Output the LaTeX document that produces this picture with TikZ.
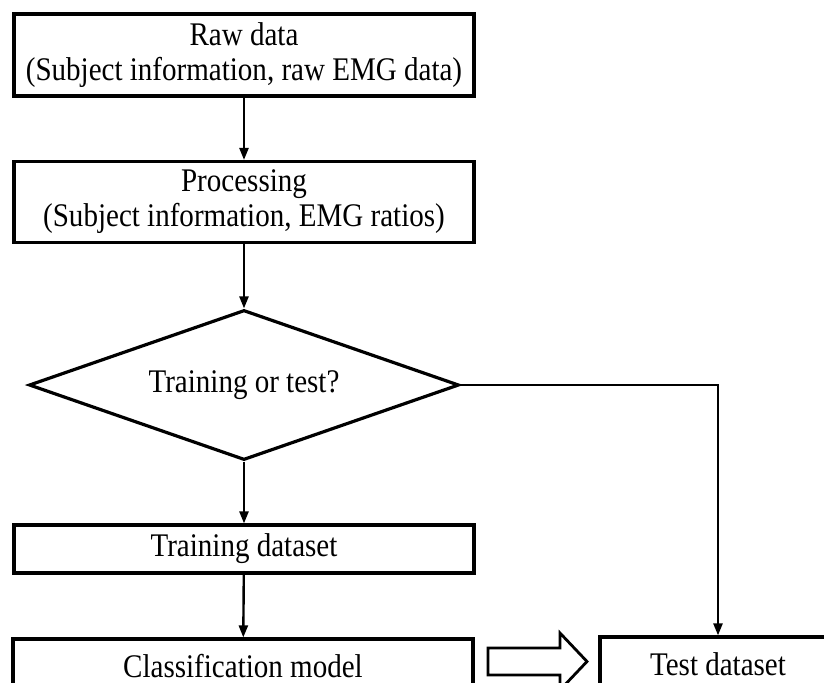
\documentclass[tikz,border=0pt]{standalone}
\usepackage{fontspec}
\setmainfont[FakeStretch=0.88]{Liberation Serif}
\usepackage{tikz}
\usetikzlibrary{arrows.meta, positioning, shapes.geometric}

\begin{document}
\begin{tikzpicture}[x=0.5pt, y=-0.5pt,
  box/.style={draw, line width=1.6pt, minimum width=230pt, align=center,
              inner sep=0pt, font=\fontsize{16.5}{17.5}\selectfont},
  decision/.style={draw, diamond, line width=1.6pt, aspect=2.87, inner sep=0pt,
              minimum width=215pt, minimum height=75pt,
              font=\fontsize{16.5}{17.5}\selectfont},
  arrow/.style={-{Triangle[length=6pt, width=4.5pt]}, line width=1.2pt},
  hollow/.style={draw, line width=1.4pt, fill=white}
]
  \useasboundingbox (0,0) rectangle (824,682);

  \node[box, minimum height=41pt]  (raw)    at (244,55)  {Raw data\\(Subject information, raw EMG data)};
  \node[box, minimum height=40.5pt] (proc)  at (244,202) {Processing\\(Subject information, EMG ratios)};
  \node[decision]                  (decide) at (244,385) {Training or test?};
  \node[box, minimum height=24pt]  (train)  at (244,549) {Training dataset};
  \node[box, minimum height=32pt, text height=12pt, text depth=6pt]
                                   (class)  at (243,671) {Classification model};
  \node[box, minimum height=32pt, minimum width=118pt, text height=12pt, text depth=6pt]
                                   (test)   at (718,669) {Test dataset};

  \draw[arrow] (raw) -- (proc);
  \draw[arrow] (proc) -- (decide);
  \draw[arrow] (decide) -- (train);
  \draw[arrow] (train) -- (class);
  \draw[arrow] (decide.east) -| (test.north);

  % block arrow from the model to the test set
  \draw[hollow] (488,648) -- (560,648) -- (560,633) -- (587,661.5)
    -- (560,690) -- (560,675) -- (488,675) -- cycle;
\end{tikzpicture}
\end{document}
